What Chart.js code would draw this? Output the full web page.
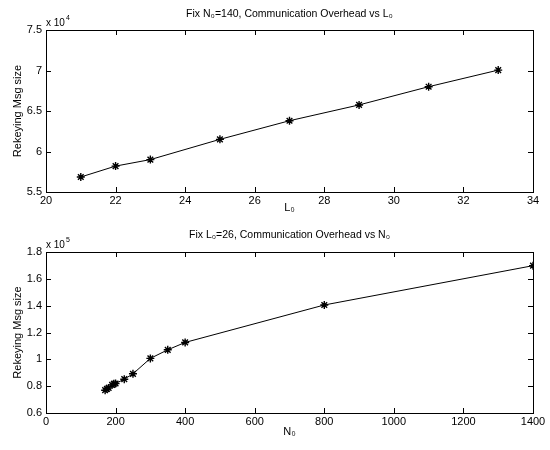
<!DOCTYPE html>
<html>
<head>
<meta charset="utf-8">
<script src="https://cdn.jsdelivr.net/npm/chart.js@4.4.1/dist/chart.umd.min.js"></script>
<style>
  html, body { margin: 0; padding: 0; background: #fff; }
  .wrap { width: 550px; height: 450px; position: relative; }
  .box { width: 550px; height: 225px; position: relative; }
</style>
</head>
<body>
<div class="wrap">
  <div class="box"><canvas id="chL"></canvas></div>
  <div class="box"><canvas id="chN"></canvas></div>
</div>
<script>
/* Two MATLAB-style subplots: rekeying message size vs L0 and vs N0. */
var L0_VALUES = [21, 22, 23, 25, 27, 29, 31, 33];
var L0_MSG = [56850, 58200, 59000, 61500, 63800, 65750, 68000, 70050];

var N0_VALUES = [170, 175, 180, 190, 195, 200, 225, 250, 300, 350, 400, 800, 1400];
var N0_MSG = [77000, 78000, 78700, 81000, 81800, 82000, 85200, 89200, 100700, 107100, 112600, 140500, 169800];

var FONT = "'Liberation Sans', Arial, Helvetica, sans-serif";
var INK = "#000";

Chart.defaults.font.family = FONT;
Chart.defaults.color = INK;
Chart.defaults.plugins.legend.display = false;
Chart.defaults.plugins.tooltip.enabled = false;
Chart.defaults.animation = false;

// box, inward ticks on all sides, title over the axes and the "x 10^n" multiplier
var matlabAxes = {
  id: "matlabAxes",
  afterDraw: function (chart, args, opts) {
    var ctx = chart.ctx, a = chart.chartArea, sx = chart.scales.x, sy = chart.scales.y, t = 5;
    ctx.save();
    ctx.strokeStyle = INK;
    ctx.lineWidth = 1;
    ctx.strokeRect(Math.round(a.left) + 0.5, Math.round(a.top) + 0.5, Math.round(a.right - a.left), Math.round(a.bottom - a.top));
    ctx.beginPath();
    sx.ticks.forEach(function (tk) {
      var x = Math.round(sx.getPixelForValue(tk.value)) + 0.5;
      ctx.moveTo(x, a.bottom); ctx.lineTo(x, a.bottom - t);
      ctx.moveTo(x, a.top); ctx.lineTo(x, a.top + t);
    });
    sy.ticks.forEach(function (tk) {
      var y = Math.round(sy.getPixelForValue(tk.value)) + 0.5;
      ctx.moveTo(a.left, y); ctx.lineTo(a.left + t, y);
      ctx.moveTo(a.right, y); ctx.lineTo(a.right - t, y);
    });
    ctx.stroke();
    ctx.fillStyle = INK;
    // title
    ctx.textAlign = "center";
    ctx.textBaseline = "middle";
    ctx.font = "10.5px " + FONT;
    ctx.fillText(opts.title, (a.left + a.right) / 2, opts.titleY);
    // exponent label
    ctx.textBaseline = "alphabetic";
    ctx.textAlign = "left";
    ctx.font = "10px " + FONT;
    var base = "x 10";
    ctx.fillText(base, a.left, a.top - 4);
    var w = ctx.measureText(base).width;
    ctx.font = "7px " + FONT;
    ctx.fillText(opts.exp, a.left + w + 1, a.top - 10);
    ctx.restore();
  }
};

function makeChart(id, o) {
  return new Chart(document.getElementById(id), {
    type: "line",
    data: {
      datasets: [{
        data: o.xs.map(function (x, i) { return { x: x, y: o.ys[i] }; }),
        borderColor: INK, borderWidth: 1, tension: 0, fill: false,
        pointStyle: "star", pointRadius: 4, pointBorderColor: INK, pointBorderWidth: 1.4,
        pointBackgroundColor: INK
      }]
    },
    options: {
      responsive: true, maintainAspectRatio: false,
      layout: { padding: { left: 0, right: 17, top: o.top, bottom: 0 } },
      plugins: {
        matlabAxes: { exp: o.exp, title: o.title, titleY: o.titleY }
      },
      scales: {
        x: {
          type: "linear", min: o.xmin, max: o.xmax,
          ticks: {
            stepSize: o.xstep, font: { size: 11 }, padding: 2, maxRotation: 0, autoSkip: false,
            callback: function (v) { return String(v); }
          },
          grid: { display: false, drawTicks: false }, border: { display: false },
          title: { display: true, text: o.xlabel, font: { size: 11 }, padding: { top: 0, bottom: o.xlabPad } },
          afterFit: function (s) { s.height = o.xh; }
        },
        y: {
          min: o.ymin, max: o.ymax,
          ticks: {
            stepSize: o.ystep, font: { size: 11 }, padding: 4,
            callback: function (v) { return String(Number((v / o.div).toFixed(1))); }
          },
          grid: { display: false, drawTicks: false }, border: { display: false },
          title: { display: true, text: "Rekeying Msg size", font: { size: 11 }, padding: { top: 11, bottom: 0 } },
          afterFit: function (s) { s.width = o.yw; }
        }
      }
    },
    plugins: [matlabAxes]
  });
}

makeChart("chL", {
  xs: L0_VALUES, ys: L0_MSG,
  title: "Fix N\u2080=140, Communication Overhead vs L\u2080", titleY: 14, top: 30,
  xlabel: "L\u2080", xmin: 20, xmax: 34, xstep: 2,
  ymin: 55000, ymax: 75000, ystep: 5000, div: 1e4, exp: "4",
  xh: 33, yw: 46, xlabPad: 10
});

makeChart("chN", {
  xs: N0_VALUES, ys: N0_MSG,
  title: "Fix L\u2080=26, Communication Overhead vs N\u2080", titleY: 10, top: 27,
  xlabel: "N\u2080", xmin: 0, xmax: 1400, xstep: 200,
  ymin: 60000, ymax: 180000, ystep: 20000, div: 1e5, exp: "5",
  xh: 37, yw: 46, xlabPad: 11
});
</script>
</body>
</html>
